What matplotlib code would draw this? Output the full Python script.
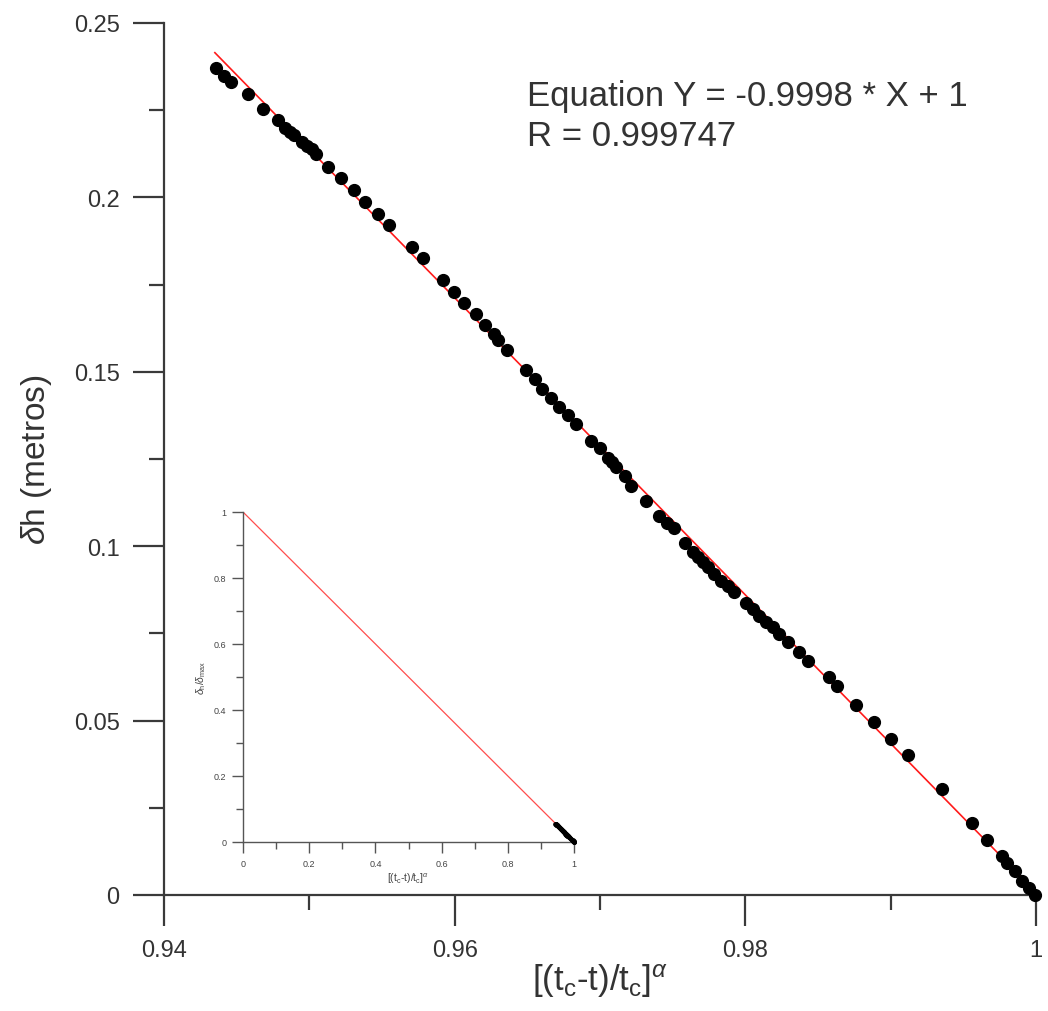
import matplotlib
matplotlib.use("Agg")
import matplotlib.pyplot as plt
import numpy as np

plt.rcParams["font.family"] = ["Liberation Sans", "DejaVu Sans"]
plt.rcParams["mathtext.fontset"] = "custom"
plt.rcParams["mathtext.rm"] = "Liberation Sans"
plt.rcParams["mathtext.it"] = "Liberation Sans:italic"

# medições: [(tc-t)/tc]^alpha  vs  deslocamento dh (m)
x_tc = [
    0.94357, 0.94414, 0.94460, 0.94575, 0.94678, 0.94781, 0.94832, 0.94866,
    0.94896, 0.94951, 0.94981, 0.95015, 0.95045, 0.95129, 0.95216, 0.95308,
    0.95384, 0.95473, 0.95548, 0.95704, 0.95782, 0.95920, 0.95995, 0.96064,
    0.96144, 0.96206, 0.96268, 0.96298, 0.96362, 0.96488, 0.96552, 0.96600,
    0.96662, 0.96717, 0.96779, 0.96834, 0.96935, 0.96997, 0.97054, 0.97084,
    0.97111, 0.97173, 0.97212, 0.97315, 0.97404, 0.97462, 0.97507, 0.97586,
    0.97638, 0.97672, 0.97707, 0.97741, 0.97787, 0.97833, 0.97878, 0.97924,
    0.98005, 0.98050, 0.98096, 0.98142, 0.98188, 0.98234, 0.98291, 0.98366,
    0.98428, 0.98573, 0.98634, 0.98763, 0.98887, 0.99003, 0.99122, 0.99356,
    0.99558, 0.99661, 0.99764, 0.99803, 0.99854, 0.99902, 0.99952, 0.99991,
]
dh = [
    0.2370, 0.2349, 0.2332, 0.2296, 0.2253, 0.2221, 0.2199, 0.2187,
    0.2178, 0.2158, 0.2148, 0.2138, 0.2125, 0.2088, 0.2055, 0.2022,
    0.1986, 0.1953, 0.1922, 0.1858, 0.1825, 0.1762, 0.1730, 0.1696,
    0.1665, 0.1634, 0.1608, 0.1592, 0.1563, 0.1505, 0.1479, 0.1452,
    0.1424, 0.1398, 0.1376, 0.1350, 0.1301, 0.1281, 0.1252, 0.1241,
    0.1228, 0.1202, 0.1173, 0.1131, 0.1087, 0.1066, 0.1051, 0.1008,
    0.0983, 0.0968, 0.0954, 0.0940, 0.0920, 0.0901, 0.0887, 0.0868,
    0.0837, 0.0819, 0.0801, 0.0782, 0.0768, 0.0748, 0.0725, 0.0698,
    0.0672, 0.0624, 0.0598, 0.0544, 0.0495, 0.0447, 0.0401, 0.0304,
    0.0206, 0.0159, 0.0113, 0.0092, 0.0068, 0.0041, 0.0019, 0.0000,
]

# ajuste linear normalizado: Y = a*X + b
fit_a = -0.9998
fit_b = 1.0
fit_r = 0.999747
dh_max = 4.26
fit_x0 = 0.9435

txt_color = "#333333"
axis_color = "#3a3a3a"
fig = plt.figure(figsize=(10.48, 10.12), dpi=100)

ax = fig.add_axes([164 / 1048, 116 / 1012, 872 / 1048, 872 / 1012])
xf = np.array([fit_x0, 1.0])
ax.plot(xf, dh_max * (fit_a * xf + fit_b), color="#ff1a1a", lw=1.2, zorder=2)
ax.plot(x_tc, dh, "o", color="black", ms=8.5, zorder=3, clip_on=False)

ax.set_xlim(0.94, 1.0)
ax.set_ylim(0, 0.25)
ax.set_xticks([0.94, 0.96, 0.98, 1.0])
ax.set_xticklabels(["0.94", "0.96", "0.98", "1"])
ax.set_xticks([0.95, 0.97, 0.99], minor=True)
ax.set_yticks([0, 0.05, 0.1, 0.15, 0.2, 0.25])
ax.set_yticklabels(["0", "0.05", "0.1", "0.15", "0.2", "0.25"])
ax.set_yticks([0.025, 0.075, 0.125, 0.175, 0.225], minor=True)
for side in ["top", "right"]:
    ax.spines[side].set_visible(False)
for side in ["left", "bottom"]:
    ax.spines[side].set_linewidth(1.6)
    ax.spines[side].set_color(axis_color)
ax.tick_params(which="major", direction="out", length=22, width=1.6,
               color=axis_color, labelsize=17, labelcolor=txt_color, pad=10)
ax.tick_params(which="minor", direction="out", length=11, width=1.6,
               color=axis_color)
ax.set_xlabel(r"[(t$_\mathrm{c}$-t)/t$_\mathrm{c}$]$^{\alpha}$",
              fontsize=25, color=txt_color, labelpad=0)
ax.set_ylabel(r"$\it{\delta}$h (metros)", fontsize=24, color=txt_color,
              labelpad=14)

ax.text(0.96495, 0.2266, "Equation Y = %.4f * X + %g" % (fit_a, fit_b),
        fontsize=25, color=txt_color, va="baseline", ha="left")
ax.text(0.96495, 0.2151, "R = %g" % fit_r,
        fontsize=25, color=txt_color, va="baseline", ha="left")

# detalhe: dados normalizados pelo deslocamento maximo
axin = fig.add_axes([243 / 1048, 169 / 1012, 331 / 1048, 330 / 1012])
xi = np.array([0.0, 1.0])
axin.plot(xi, fit_a * xi + fit_b, color="#ff4d4d", lw=0.9, zorder=2)
axin.plot(x_tc, np.array(dh) / dh_max, "o", color="black", ms=2.4, zorder=3,
          clip_on=False)
axin.set_xlim(0, 1)
axin.set_ylim(0, 1)
axin.set_xticks(np.arange(0, 1.01, 0.2))
axin.set_xticklabels(["0", "0.2", "0.4", "0.6", "0.8", "1"])
axin.set_xticks(np.arange(0.1, 1.0, 0.2), minor=True)
axin.set_yticks(np.arange(0, 1.01, 0.2))
axin.set_yticklabels(["0", "0.2", "0.4", "0.6", "0.8", "1"])
axin.set_yticks(np.arange(0.1, 1.0, 0.2), minor=True)
for side in ["top", "right"]:
    axin.spines[side].set_visible(False)
for side in ["left", "bottom"]:
    axin.spines[side].set_linewidth(1.0)
    axin.spines[side].set_color("#555555")
axin.tick_params(which="major", direction="out", length=8, width=1.0,
                 color="#555555", labelsize=6.5, labelcolor="#444444", pad=4)
axin.tick_params(which="minor", direction="out", length=5, width=1.0,
                 color="#555555")
axin.set_xlabel(r"[(t$_\mathrm{c}$-t)/t$_\mathrm{c}$]$^{\alpha}$",
                fontsize=7.5, color="#444444", labelpad=2)
axin.set_ylabel(r"$\it{\delta}_\mathrm{h}$/$\it{\delta}_\mathrm{max}$",
                fontsize=7.5, color="#444444", labelpad=4)

fig.savefig("out.png", dpi=100)
